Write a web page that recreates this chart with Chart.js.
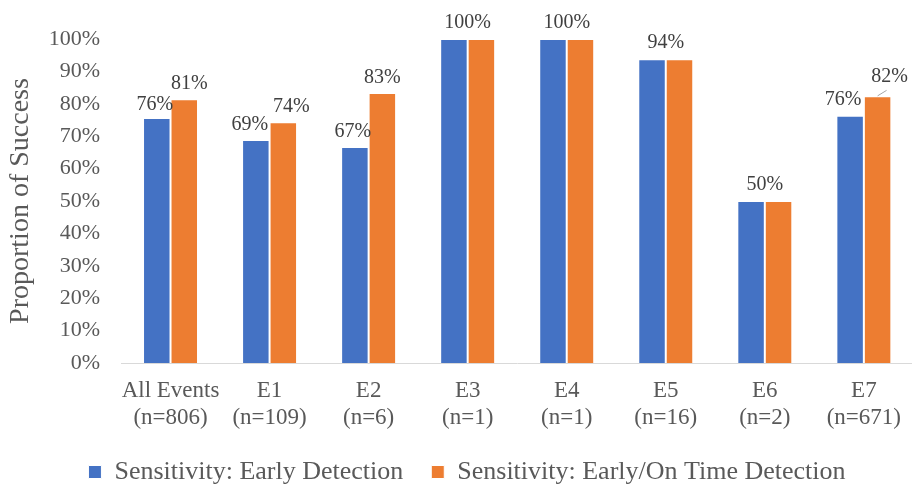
<!DOCTYPE html>
<html>
<head>
<meta charset="utf-8">
<script src="https://cdn.jsdelivr.net/npm/chart.js@4.4.1/dist/chart.umd.min.js"></script>
<style>
  html, body { margin: 0; padding: 0; background: #fff; overflow: hidden; }
  #wrap { width: 916px; height: 495px; }
</style>
</head>
<body>
<div id="wrap"><canvas id="chart" width="916" height="495"></canvas></div>
<script>
// Chart data
const categories = ['All Events', 'E1', 'E2', 'E3', 'E4', 'E5', 'E6', 'E7'];
const sampleSizes = [806, 109, 6, 1, 1, 16, 2, 671];
const earlyDetection = [75.6, 68.8, 66.7, 100, 100, 93.75, 50, 76.3];
const earlyOnTimeDetection = [81.4, 74.3, 83.3, 100, 100, 93.75, 50, 82.3];
const seriesNames = ['Sensitivity: Early Detection', 'Sensitivity: Early/On Time Detection'];
const yTickValues = [0, 10, 20, 30, 40, 50, 60, 70, 80, 90, 100];

const SERIF = "'Liberation Serif', 'Times New Roman', serif";
const TEXT = '#595959';

// label nudges (px): [dx from bar centre, baseline gap above bar top, leader line]
const labelNudge = [
  [[-2, 8], [-6, 10], [-2, 10], null, null, null, null, [-7, 11]],
  [[5, 10], [8, 10], [0, 10], null, null, null, null, [12, 14, true]]
];

const barLabels = {
  id: 'barLabels',
  afterDatasetsDraw(chart) {
    const { ctx } = chart;
    const metas = [chart.getDatasetMeta(0), chart.getDatasetMeta(1)];
    const values = [earlyDetection, earlyOnTimeDetection];
    ctx.save();
    ctx.font = `20px ${SERIF}`;
    ctx.fillStyle = '#404040';
    ctx.textAlign = 'center';
    ctx.textBaseline = 'alphabetic';
    categories.forEach((c, i) => {
      const a = Math.round(values[0][i]);
      const b = Math.round(values[1][i]);
      const bars = [metas[0].data[i], metas[1].data[i]];
      if (a === b) {
        // same value: one label over the pair
        ctx.fillText(a + '%', (bars[0].x + bars[1].x) / 2, Math.min(bars[0].y, bars[1].y) - 11);
        return;
      }
      [a, b].forEach((v, d) => {
        const [dx, dy, leader] = labelNudge[d][i];
        ctx.fillText(v + '%', bars[d].x + dx, bars[d].y - dy);
        if (leader) {
          ctx.save();
          ctx.strokeStyle = '#a6a6a6';
          ctx.lineWidth = 1;
          ctx.beginPath();
          ctx.moveTo(bars[d].x, bars[d].y - 0.5);
          ctx.lineTo(bars[d].x + 9, bars[d].y - 6);
          ctx.stroke();
          ctx.restore();
        }
      });
    });
    ctx.restore();
  }
};

new Chart(document.getElementById('chart'), {
  type: 'bar',
  data: {
    labels: categories.map((c, i) => [c, `(n=${sampleSizes[i]})`]),
    datasets: [
      {
        label: seriesNames[0],
        data: earlyDetection,
        backgroundColor: '#4472C4',
        borderColor: '#ffffff',
        borderWidth: 1
      },
      {
        label: seriesNames[1],
        data: earlyOnTimeDetection,
        backgroundColor: '#ED7D31',
        borderColor: '#ffffff',
        borderWidth: 1
      }
    ]
  },
  options: {
    responsive: false,
    animation: false,
    layout: { padding: { top: 39, left: 18, right: 0, bottom: 0 } },
    datasets: {
      bar: { categoryPercentage: 0.555, barPercentage: 1 }
    },
    plugins: {
      legend: {
        position: 'bottom',
        labels: {
          boxWidth: 13,
          boxHeight: 13,
          padding: 28,
          color: TEXT,
          font: { family: SERIF, size: 26 }
        }
      },
      tooltip: { enabled: false }
    },
    scales: {
      x: {
        grid: { display: false, drawTicks: false },
        border: { display: true, color: '#d9d9d9', width: 1 },
        ticks: {
          color: TEXT,
          padding: 15,
          maxRotation: 0,
          autoSkip: false,
          font: { family: SERIF, size: 23, lineHeight: 1.15 }
        },
        afterFit: (scale) => { scale.height = 68; }
      },
      y: {
        min: 0,
        max: 100,
        afterBuildTicks: (scale) => { scale.ticks = yTickValues.map(v => ({ value: v })); },
        grid: { display: false, drawTicks: false },
        border: { display: false },
        ticks: {
          color: TEXT,
          padding: 21,
          font: { family: SERIF, size: 22 },
          callback: (value) => `${value}%`
        },
        title: {
          display: true,
          text: 'Proportion of Success',
          color: TEXT,
          padding: { top: -14, bottom: 0 },
          font: { family: SERIF, size: 28, lineHeight: 1.2 }
        },
        afterFit: (scale) => { scale.width = 103; }
      }
    }
  },
  plugins: [barLabels]
});
</script>
</body>
</html>
